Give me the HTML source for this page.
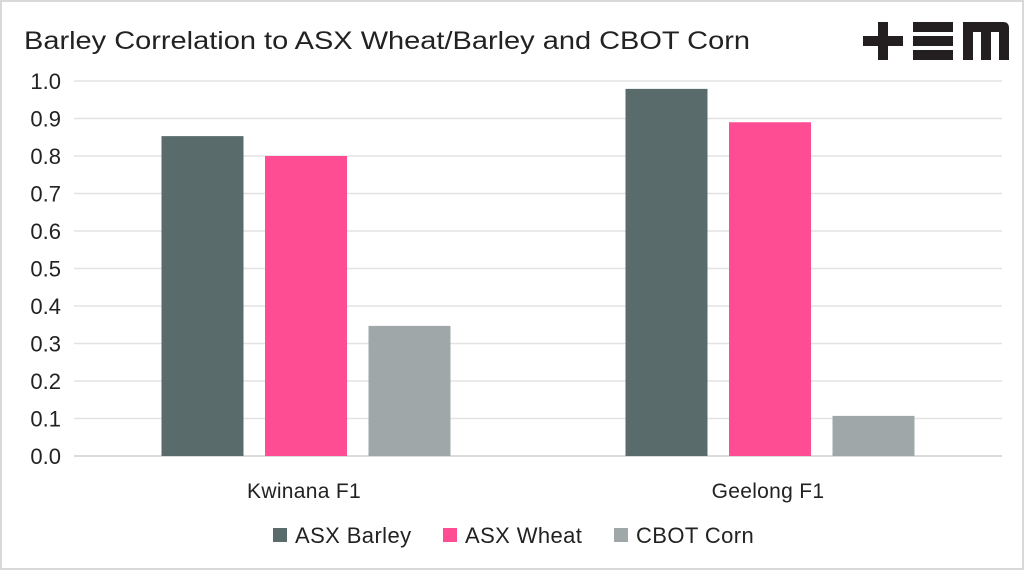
<!DOCTYPE html>
<html><head><meta charset="utf-8"><style>
html,body{margin:0;padding:0;background:#fff;}
#wrap{position:relative;width:1024px;height:570px;box-sizing:border-box;border:2px solid #d9d9d9;overflow:hidden;font-family:"Liberation Sans",sans-serif;}
svg{position:absolute;left:-2px;top:-2px;}
</style></head><body>
<div id="wrap">
<svg id="chart" width="1024" height="570">
  <text x="24" y="49" font-size="25" fill="#222" textLength="726" lengthAdjust="spacingAndGlyphs">Barley Correlation to ASX Wheat/Barley and CBOT Corn</text>
  <g fill="#231f20">
    <rect x="863" y="36" width="40" height="10"/><rect x="878" y="22" width="10" height="38"/>
    <rect x="913" y="22" width="40" height="10"/><rect x="913" y="36" width="40" height="10"/><rect x="913" y="50" width="40" height="10"/>
    <path d="M963 22 H1003 Q1009 22 1009 28 V60 H999 V32 H991 V60 H981 V32 H973 V60 H963 Z"/>
  </g>
  <g id="grid"></g><g id="bars"></g><g id="labels"></g><g id="legend"></g>
</svg>
</div>
<script>
const categories = ["Kwinana F1", "Geelong F1"];
const seriesNames = ["ASX Barley", "ASX Wheat", "CBOT Corn"];
const seriesColors = ["#5a6b6c", "#ff4d94", "#9fa7a8"];
const asxBarley = [0.853, 0.979];
const asxWheat = [0.80, 0.89];
const cbotCorn = [0.347, 0.107];
const yTicks = [0.0, 0.1, 0.2, 0.3, 0.4, 0.5, 0.6, 0.7, 0.8, 0.9, 1.0];
const series = [asxBarley, asxWheat, cbotCorn];
const NS = "http://www.w3.org/2000/svg";
const x0 = 74, x1 = 1002, yBase = 456, yTop = 81;
function yScale(v){ return yBase - v*(yBase - yTop); }
const groupW = (x1 - x0)/categories.length;
function groupCenter(i){ return x0 + groupW*(i+0.5); }
function mk(tag, attrs, parent){ const e=document.createElementNS(NS,tag); for(const k in attrs) e.setAttribute(k,attrs[k]); parent.appendChild(e); return e; }
const grid=document.getElementById('grid'), bars=document.getElementById('bars'), labels=document.getElementById('labels'), legend=document.getElementById('legend');
yTicks.forEach(t=>{
  const l=mk('line',{x1:x0,x2:x1,y1:yScale(t),y2:yScale(t),stroke:t===0?'#d0d0d0':'#e3e3e3','stroke-width':1.5},grid);
  
  
  const tx=mk('text',{x:61,y:yScale(t)+8,'font-size':22,fill:'#222','text-anchor':'end'},labels);
  tx.textContent=t.toFixed(1);
  
  
});
const barW=82, step=103.5;
categories.forEach((c,i)=>{
  const cx=groupCenter(i);
  series.forEach((s,j)=>{
    const bx=cx+(j-1)*step-barW/2;
    const r=mk('rect',{x:bx,y:yScale(s[i]),width:barW,height:yBase-yScale(s[i]),fill:seriesColors[j]},bars);
    
    
  });
  const tx=mk('text',{x:cx-2,y:498,'font-size':21,fill:'#222','text-anchor':'middle','letter-spacing':0.3},labels);
  tx.textContent=c;
  
  
});
const legX=[273,443,614];
seriesNames.forEach((n,j)=>{
  const r=mk('rect',{x:legX[j],y:528,width:14,height:14,fill:seriesColors[j]},legend);
  
  
  const t=mk('text',{x:legX[j]+22,y:543,'font-size':22,fill:'#222','letter-spacing':0.4},legend);
  t.textContent=n;
  
  
});
</script>
</body></html>
